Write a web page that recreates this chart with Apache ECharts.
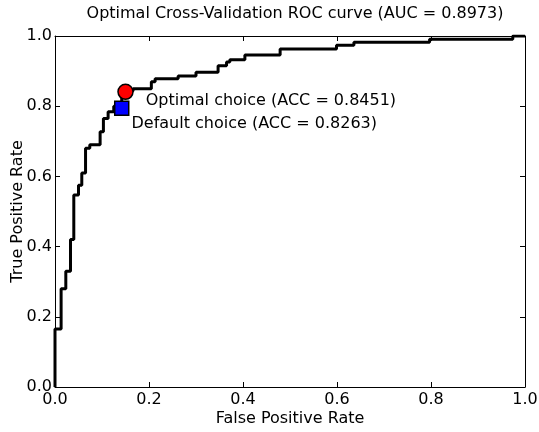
<!DOCTYPE html>
<html>
<head>
<meta charset="utf-8">
<script src="https://cdn.jsdelivr.net/npm/echarts@6/dist/echarts.min.js"></script>
<style>
    html, body { margin: 0; padding: 0; background: #fff; }
    #rocChart { width: 539px; height: 432px; }
</style>
</head>
<body>
<div id="rocChart"></div>
<script>
    // step corners of the ROC curve
    var fpr = [0, 0, 0.013, 0.013, 0.023, 0.023, 0.033, 0.033, 0.04, 0.04,
        0.05, 0.05, 0.057, 0.057, 0.065, 0.065, 0.074, 0.074, 0.096, 0.096,
        0.103, 0.103, 0.113, 0.113, 0.125, 0.125, 0.142, 0.142, 0.166, 0.166,
        0.205, 0.205, 0.213, 0.213, 0.262, 0.262, 0.3, 0.3, 0.347, 0.347,
        0.365, 0.365, 0.372, 0.372, 0.404, 0.404, 0.479, 0.479, 0.599, 0.599,
        0.636, 0.636, 0.797, 0.797, 0.974, 0.974, 1.0]
    var tpr = [0, 0.165, 0.165, 0.28, 0.28, 0.33, 0.33, 0.42, 0.42, 0.547,
        0.547, 0.575, 0.575, 0.61, 0.61, 0.68, 0.68, 0.69, 0.69, 0.727,
        0.727, 0.765, 0.765, 0.784, 0.784, 0.8, 0.8, 0.843, 0.843, 0.85,
        0.85, 0.87, 0.87, 0.878, 0.878, 0.886, 0.886, 0.897, 0.897, 0.915,
        0.915, 0.926, 0.926, 0.932, 0.932, 0.946, 0.946, 0.963, 0.963, 0.974,
        0.974, 0.982, 0.982, 0.991, 0.991, 1.0, 1.0]

    var optimalPoint = [0.150, 0.841]
    var defaultPoint = [0.142, 0.794]
    var optimalLabel = 'Optimal choice (ACC = 0.8451)'
    var defaultLabel = 'Default choice (ACC = 0.8263)'
    var titleText = 'Optimal Cross-Validation ROC curve (AUC = 0.8973)'

    var font = 'DejaVu Sans'
    var curve = fpr.map(function (x, i) { return [x, tpr[i]] })

    function axis(pos, name, showLabel) {
        return {
            type: 'value',
            position: pos,
            min: 0,
            max: 1,
            interval: 0.2,
            name: name,
            nameLocation: 'middle',
            nameMoveOverlap: false,
            nameGap: pos === 'left' ? 29 : 24,
            nameTextStyle: { fontFamily: font, fontSize: 16, color: '#000' },
            axisLine: { show: true, onZero: false, lineStyle: { color: '#000', width: 1 } },
            axisTick: { show: true, inside: true, length: 5, lineStyle: { color: '#000' } },
            axisLabel: {
                show: showLabel,
                fontFamily: font,
                fontSize: 16,
                color: '#000',
                margin: pos === 'left' ? 3 : 5,
                formatter: function (v) { return v.toFixed(1) }
            },
            splitLine: { show: false }
        }
    }

    var lineChart = echarts.init(document.getElementById('rocChart'))
    var options = {
        backgroundColor: '#fff',
        animation: false,
        title: {
            text: titleText,
            left: 290,
            textAlign: 'center',
            top: 1,
            textStyle: { fontFamily: font, fontSize: 16, fontWeight: 'normal', color: '#000' }
        },
        grid: { left: 55, right: 14, top: 36, bottom: 45, containLabel: false, outerBoundsMode: 'none' },
        xAxis: [axis('bottom', 'False Positive Rate', true), axis('top', '', false)],
        yAxis: [axis('left', 'True Positive Rate', true), axis('right', '', false)],
        series: [
            {
                type: 'line',
                data: curve,
                showSymbol: false,
                lineStyle: { color: '#000', width: 3 },
                z: 2
            },
            {
                type: 'scatter',
                data: [defaultPoint],
                symbol: 'rect',
                symbolSize: 14,
                itemStyle: { color: '#0000ff', borderColor: '#000', borderWidth: 1.5, opacity: 1 },
                label: {
                    show: true,
                    position: 'right',
                    distance: 0,
                    offset: [2, 16],
                    formatter: defaultLabel,
                    fontFamily: font,
                    fontSize: 16,
                    color: '#000'
                },
                z: 3
            },
            {
                type: 'scatter',
                data: [optimalPoint],
                symbol: 'circle',
                symbolSize: 15,
                itemStyle: { color: '#ff0000', borderColor: '#000', borderWidth: 1.5, opacity: 1 },
                label: {
                    show: true,
                    position: 'right',
                    distance: 0,
                    offset: [12, 9],
                    formatter: optimalLabel,
                    fontFamily: font,
                    fontSize: 16,
                    color: '#000'
                },
                z: 4
            }
        ]
    }
    lineChart.setOption(options)
</script>
</body>
</html>
